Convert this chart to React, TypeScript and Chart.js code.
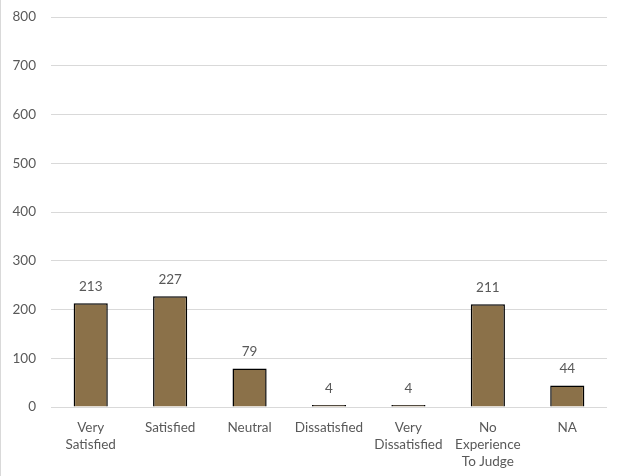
import React, { useEffect, useRef } from "react";
import { Chart, registerables } from "chart.js";

Chart.register(...registerables);

const categories: (string | string[])[] = [
  ["Very", "Satisfied"],
  "Satisfied",
  "Neutral",
  "Dissatisfied",
  ["Very", "Dissatisfied"],
  ["No", "Experience", "To Judge"],
  "NA",
];
const counts: number[] = [213, 227, 79, 4, 4, 211, 44];
const yMax = 800;
const yStep = 100;

const FONT = "Lato, 'Open Sans', sans-serif";
const TEXT = "#595959";

const valueLabels = {
  id: "valueLabels",
  afterDatasetsDraw(chart: any) {
    const ctx = chart.ctx;
    const meta = chart.getDatasetMeta(0);
    ctx.save();
    ctx.font = `13.5px ${FONT}`;
    ctx.fillStyle = TEXT;
    ctx.textAlign = "center";
    ctx.textBaseline = "bottom";
    meta.data.forEach((bar: any, i: number) => {
      ctx.fillText(String(chart.data.datasets[0].data[i]), bar.x, bar.y - 10);
    });
    ctx.restore();
  },
};

export default function App() {
  const ref = useRef<HTMLCanvasElement>(null);
  useEffect(() => {
    document.body.style.margin = "0";
    const chart = new Chart(ref.current!, {
      type: "bar",
      data: {
        labels: categories,
        datasets: [
          {
            data: counts,
            backgroundColor: "#8B7149",
            borderColor: "#000000",
            borderWidth: 1.5,
            barPercentage: 0.43,
            categoryPercentage: 1,
          },
        ],
      },
      options: {
        animation: false,
        responsive: false,
        maintainAspectRatio: false,
        layout: { padding: { top: 0, right: 18, left: 0, bottom: 0 } },
        plugins: { legend: { display: false }, tooltip: { enabled: false } },
        scales: {
          x: {
            grid: { display: false },
            border: { display: false },
            ticks: {
              color: TEXT,
              font: { family: FONT, size: 13.5, lineHeight: 1.27 },
              padding: 4,
              maxRotation: 0,
              autoSkip: false,
            },
            afterFit: (s: any) => {
              s.height = 69;
            },
          },
          y: {
            min: 0,
            max: yMax,
            grid: { color: "#d9d9d9", drawTicks: false, lineWidth: 1 },
            border: { display: false },
            ticks: {
              stepSize: yStep,
              color: TEXT,
              font: { family: FONT, size: 13.5 },
              padding: 15,
            },
            afterFit: (s: any) => {
              s.width = 50;
              s.paddingTop = 17;
              s.paddingBottom = 0;
            },
          },
        },
      },
      plugins: [valueLabels],
    });
    return () => chart.destroy();
  }, []);
  return (
    <div
      style={{
        position: "fixed",
        left: 0,
        top: 0,
        width: 625,
        height: 476,
        borderLeft: "1px solid #d9d9d9",
        boxSizing: "border-box",
        background: "#fff",
      }}
    >
      <canvas ref={ref} width={624} height={476} style={{ display: "block" }} />
    </div>
  );
}
